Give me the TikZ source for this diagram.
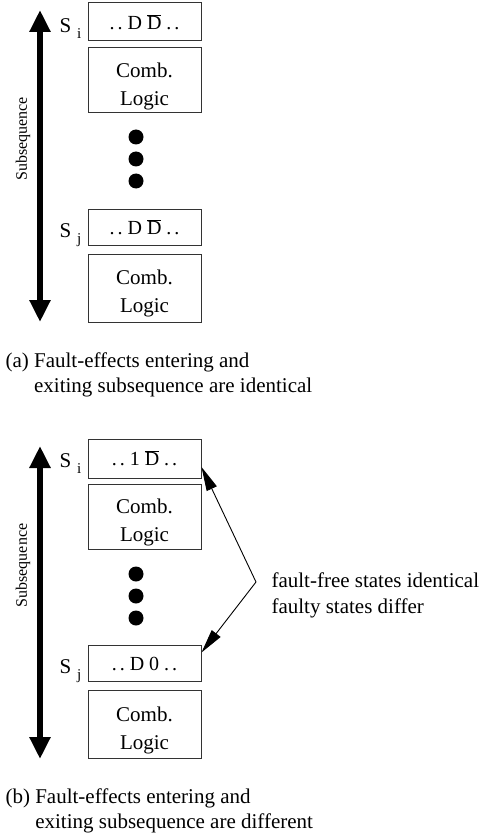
\documentclass[tikz,border=0pt]{standalone}
\usepackage{fontspec}
\setmainfont{Liberation Serif}
\usetikzlibrary{arrows.meta}
\newcommand{\olD}{$\overline{\hbox{D}}$}
\newcommand{\lgc}{\rule{0pt}{26.5pt}Comb.\\Logic}
\newcommand{\sublab}[1]{S\hspace{6pt}\raisebox{-6pt}{\fontsize{15}{15}\selectfont #1}}
\newcommand{\dd}{.\hspace{3pt}.}
\begin{document}
\begin{tikzpicture}[x=1pt,y=-1pt,
  every node/.style={font=\fontsize{21}{28}\selectfont},
  statebox/.style={draw=black!80,line width=1pt,minimum width=113pt,inner sep=0pt,font=\fontsize{20}{24}\selectfont},
  logicbox/.style={draw=black!80,line width=1pt,minimum width=113pt,inner sep=0pt,align=center,font=\fontsize{21}{28}\selectfont},
  bigdot/.style={circle,fill=black,inner sep=0pt,minimum size=15pt},
  bigarrow/.style={line width=5.5pt,{Triangle[width=20pt,length=22pt]}-{Triangle[width=20pt,length=22pt]}},
  thinarrow/.style={line width=0.9pt,-{Triangle[width=11pt,length=24pt]}},
  sidelab/.style={rotate=90,font=\fontsize{16}{18}\selectfont},
  slab/.style={anchor=base west},
  caption/.style={anchor=base west,align=left,font=\fontsize{21}{25}\selectfont}]
\useasboundingbox (0,0) rectangle (489,837);
% ---------- panel (a)
\node[statebox,minimum height=38pt] (siA) at (144.5,22) {\dd\ D \olD\ \dd};
\node[logicbox,minimum height=65pt] (cA) at (144.5,80.5) {\lgc};
\node[bigdot] (dA1) at (136,137) {};
\node[bigdot] (dA2) at (136,159) {};
\node[bigdot] (dA3) at (136,181) {};
\node[statebox,minimum height=36pt] (sjA) at (144.5,227) {\dd\ D \olD\ \dd};
\node[logicbox,minimum height=68pt] (c2A) at (144.5,288) {\lgc};
\coordinate (aTop) at (40,10);
\coordinate (aBot) at (40,322);
\draw[bigarrow] (aTop) -- (aBot);
\node[sidelab] (subA) at (23,139) {Subsequence};
\node[slab] (lsiA) at (56,33) {\sublab{i}};
\node[slab] (lsjA) at (56,237) {\sublab{j}};
\node[caption] (capA) at (2,392) {(a) Fault-effects entering and\\\hphantom{(a) }exiting subsequence are identical};
% ---------- panel (b)
\node[statebox,minimum height=39pt] (siB) at (144.5,458.5) {\dd\ 1 \olD\ \dd};
\node[logicbox,minimum height=65pt] (cB) at (144.5,517) {\lgc};
\node[bigdot] (dB1) at (136,574) {};
\node[bigdot] (dB2) at (136,596) {};
\node[bigdot] (dB3) at (136,618) {};
\node[statebox,minimum height=36pt] (sjB) at (144.5,663.5) {\dd\ D 0 \dd};
\node[logicbox,minimum height=68pt] (c2B) at (144.5,724.5) {\lgc};
\coordinate (bTop) at (40,446);
\coordinate (bBot) at (40,759);
\draw[bigarrow] (bTop) -- (bBot);
\node[sidelab] (subB) at (23,565.5) {Subsequence};
\node[slab] (lsiB) at (56,467) {\sublab{i}};
\node[slab] (lsjB) at (56,673) {\sublab{j}};
\node[caption] (capB) at (2,828) {(b) Fault-effects entering and\\\hphantom{(b) }exiting subsequence are different};
\coordinate (apex) at (256,582);
\draw[thinarrow] (apex) -- ([yshift=-8.5pt]siB.east);
\draw[thinarrow] (apex) -- ([yshift=-7.5pt]sjB.north east);
\node[anchor=base west,align=left,font=\fontsize{21}{26}\selectfont] (note) at (268,613) {fault-free states identical\\faulty states differ};
\end{tikzpicture}
\end{document}
